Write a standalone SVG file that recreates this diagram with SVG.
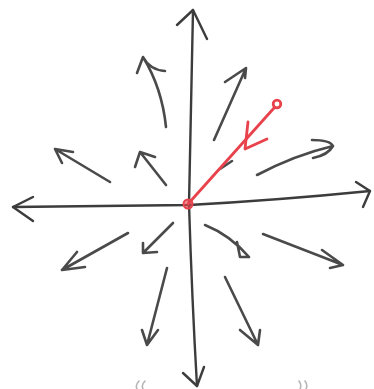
<svg xmlns="http://www.w3.org/2000/svg" width="374" height="389" viewBox="0 0 374 389">
<style>
.ax{fill:none;stroke:#3c3c3c;stroke-width:2.4;stroke-linecap:round;stroke-linejoin:round}
.ar{fill:none;stroke:#4a4a4a;stroke-width:2.6;stroke-linecap:round;stroke-linejoin:round}
.red{fill:none;stroke:#e8424c;stroke-width:2.8;stroke-linecap:round;stroke-linejoin:round}
.faint{fill:none;stroke:#b5b5b5;stroke-width:1.6;stroke-linecap:round}
</style>
<rect width="374" height="389" fill="#ffffff"/>
<g id="connectors">
<g id="axis-vertical">
<path class="ax" d="M193 10 Q191 100 189 204 Q192 300 197 386"/>
<path class="ax" d="M177 25 L193 10 L207 39"/>
<path class="ax" d="M183 373 L197 386 L204 367"/>
</g>
<g id="axis-horizontal">
<path class="ax" d="M13 207 Q100 206 189 205 Q280 200 370 191"/>
<path class="ax" d="M33 197 L13 207 L33 221"/>
<path class="ax" d="M356 182 L370 191 L363 207"/>
</g>
<g id="arrows">
<path class="ar" d="M166 185 L140 152 M135 167 L140 152 L155 157"/>
<path class="ar" d="M110 182 L55 149 M62 163 L55 149 L73 152"/>
<path class="ar" d="M166 127 Q162 88 143 57 M137 73 L143 57 Q150 70 165 71"/>
<path class="ar" d="M214 140 L246 68 M225 82 L246 68 L245 78"/>
<path class="ar" d="M257 175 Q295 155 333 146 M312 140 Q330 140 333 146 Q328 155 313 158"/>
<path class="ar" d="M220 169 L232 161"/>
<path class="ar" d="M128 233 L62 270 M77 252 L62 270 L85 267"/>
<path class="ar" d="M173 223 L143 253 M143 243 L143 253 L157 252"/>
<path class="ar" d="M205 225 Q230 235 249 257 M237 242 L240 257 L249 257"/>
<path class="ar" d="M263 234 L343 265 M322 250 L343 265 L330 268"/>
<path class="ar" d="M167 268 L147 345 M142 330 L147 345 L158 330"/>
<path class="ar" d="M225 277 L258 345 M240 330 L258 345 L260 330"/>
</g>
<g id="red-vector">
<path class="red" d="M188 204 L274 108"/>
<circle cx="188" cy="204" r="4.5" fill="#e8424c" fill-opacity="0.6" stroke="#e8424c" stroke-width="2"/>
<circle cx="277" cy="104" r="3.8" fill="#ffffff" stroke="#e8424c" stroke-width="2.8"/>
<path class="red" d="M248 122 L245 149 L267 139"/>
</g>
<g id="bottom-marks">
<path class="faint" d="M137 389 Q135 385 139 381 M143 389 Q141 385 145 381"/>
<path class="faint" d="M300 389 Q302 385 299 381 M306 389 Q308 385 305 381"/>
</g>
</g>
</svg>
